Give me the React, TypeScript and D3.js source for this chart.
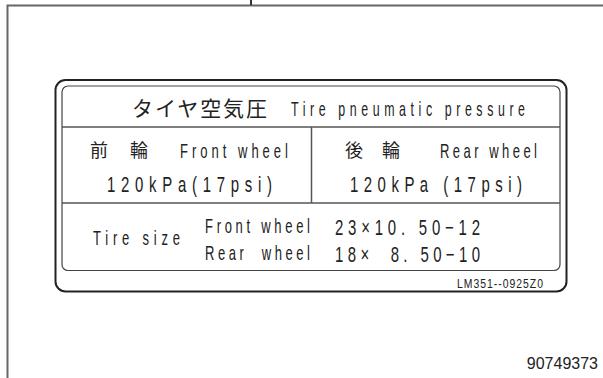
import { useEffect, useRef } from "react";
import * as d3 from "d3";

// label texts
const titleJa = "タイヤ空気圧";
const titleEn = "Tire pneumatic pressure";
const wheelJa = [["前", "輪"], ["後", "輪"]];
const wheelEn = ["Front wheel", "Rear wheel"];
const pressures = ["120kPa(17psi)", "120kPa (17psi)"];
const sizeLabel = "Tire size";
const sizeWheels = ["Front wheel", "Rear  wheel"];
const sizeValues = ["23×10. 50−12", "18×  8. 50−10"];
const labelCode = "LM351--0925Z0";
const figureNo = "90749373";

const W = 603;
const H = 378;
const latin = "'Liberation Sans', Arial, sans-serif";
const cjk = "'Noto Sans CJK JP', sans-serif";

function App() {
  const ref = useRef<SVGSVGElement>(null);

  useEffect(() => {
    const svg = d3.select(ref.current);
    svg.selectAll("*").remove();

    // page frame
    svg.append("path")
      .attr("d", `M7.5,378 V5.5 H603`)
      .attr("fill", "none")
      .attr("stroke", "#666")
      .attr("stroke-width", 2);
    svg.append("line")
      .attr("x1", 251).attr("x2", 251).attr("y1", 0).attr("y2", 5)
      .attr("stroke", "#333").attr("stroke-width", 2);

    // label outlines
    svg.append("rect")
      .attr("x", 55.5).attr("y", 80).attr("width", 511).attr("height", 211.5)
      .attr("rx", 10).attr("fill", "none").attr("stroke", "#222").attr("stroke-width", 2);
    svg.append("rect")
      .attr("x", 62).attr("y", 86).attr("width", 498).attr("height", 184.5)
      .attr("rx", 6).attr("fill", "none").attr("stroke", "#444").attr("stroke-width", 1.2);

    // table rules
    const y = d3.scaleOrdinal<string, number>()
      .domain(["head", "mid"])
      .range([127, 203]);

    svg.append("g").selectAll("line").data(y.domain()).join("line")
      .attr("x1", 62).attr("x2", 560)
      .attr("y1", (d) => y(d)).attr("y2", (d) => y(d))
      .attr("stroke", "#555").attr("stroke-width", 1.5);
    svg.append("line")
      .attr("x1", 311.5).attr("x2", 311.5).attr("y1", y("head")).attr("y2", y("mid"))
      .attr("stroke", "#555").attr("stroke-width", 1.5);

    // narrow plotter-like latin text: squeeze glyphs, spread by textLength
    const lat = (s: string, x: number, yy: number, size: number, len: number, sx = 0.62) => {
      svg.append("g")
        .attr("transform", `translate(${x},${yy}) scale(${sx},1)`)
        .append("text")
        .attr("font-family", latin)
        .attr("font-size", size)
        .attr("fill", "#222")
        .attr("xml:space", "preserve")
        .style("white-space", "pre")
        .attr("textLength", len / sx)
        .attr("lengthAdjust", "spacing")
        .text(s);
    };
    const ja = (s: string, x: number, yy: number, size: number, len?: number) => {
      const t = svg.append("text")
        .attr("x", x).attr("y", yy)
        .attr("font-family", cjk)
        .attr("font-size", size)
        .attr("fill", "#222")
        .text(s);
      if (len) t.attr("textLength", len).attr("lengthAdjust", "spacing");
    };

    // title
    ja(titleJa, 132, 115.5, 21, 135);
    lat(titleEn, 291, 116, 20, 234);

    // pressure columns
    const jaX = [[90, 130], [345, 382]];
    const enX = [[180, 108], [440, 97]];
    const pX = [[107, 165], [350, 172]];
    wheelJa.forEach((pair, i) => {
      pair.forEach((c, j) => ja(c, jaX[i][j], 157, 18));
      lat(wheelEn[i], enX[i][0], 158, 21, enX[i][1]);
      lat(pressures[i], pX[i][0], 191.5, 22, pX[i][1], 0.68);
    });

    // tire size
    lat(sizeLabel, 93, 245, 21, 87);
    const rowY = d3.scalePoint<number>().domain([0, 1]).range([233, 260]);
    sizeWheels.forEach((s, i) => lat(s, 205, rowY(i) as number, 21, 105));
    sizeValues.forEach((s, i) => lat(s, 335, (rowY(i) as number) + 1.5, 22, 145, 0.68));

    lat(labelCode, 457, 288, 13, 86, 0.8);
    svg.append("text")
      .attr("x", 598).attr("y", 369)
      .attr("text-anchor", "end")
      .attr("font-family", latin)
      .attr("font-size", 16)
      .attr("fill", "#222")
      .text(figureNo);
  }, []);

  return (
    <svg
      ref={ref}
      width={W}
      height={H}
      style={{ position: "absolute", left: 0, top: 0, background: "#fff" }}
    />
  );
}

export default App;
